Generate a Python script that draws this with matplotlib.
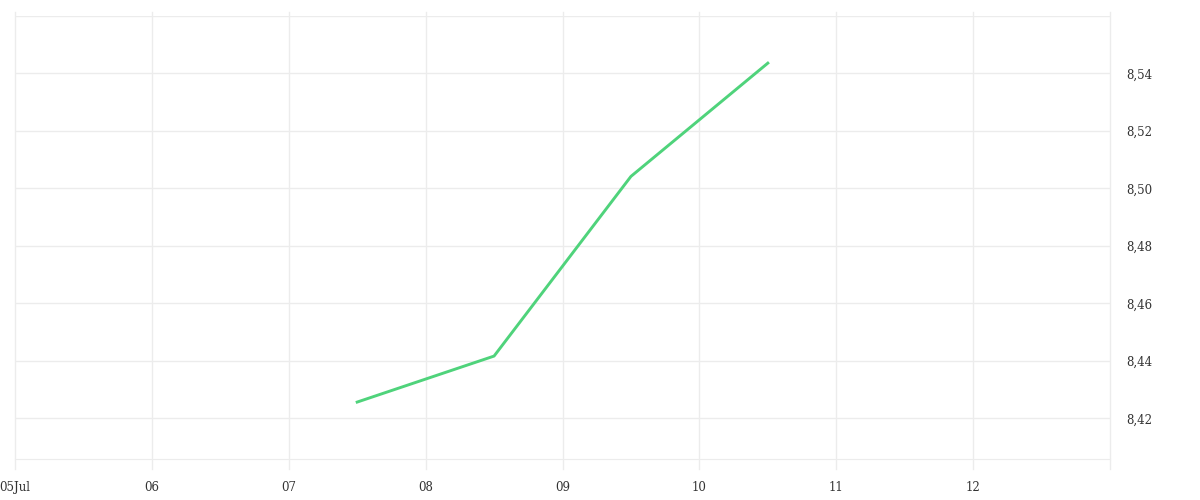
import matplotlib
matplotlib.use("Agg")
import matplotlib.pyplot as plt
import matplotlib.dates as mdates
import matplotlib.transforms as mtrans
import datetime as dt

dates = ["2024-07-07 12:00", "2024-07-08 12:00", "2024-07-09 12:00", "2024-07-10 12:00"]
values = [8.4257, 8.4417, 8.5042, 8.5436]
x_ticks = ["2024-07-05", "2024-07-06", "2024-07-07", "2024-07-08", "2024-07-09",
           "2024-07-10", "2024-07-11", "2024-07-12"]
x_tick_labels = ["05Jul", "06", "07", "08", "09", "10", "11", "12"]
y_ticks = [8.42, 8.44, 8.46, 8.48, 8.50, 8.52, 8.54]
y_grid_extra = [8.56]

plt.rcParams['font.family'] = ['DejaVu Serif']

fig = plt.figure(figsize=(12, 5), dpi=100)
ax_h = (458.7 - 16) / 500
ax = fig.add_axes([15/1200, 1 - 458.7/500, (1110 - 15)/1200, ax_h])

xd = [dt.datetime.strptime(d, "%Y-%m-%d %H:%M") for d in dates]
ax.plot(xd, values, color="#4fd37b", lw=2.1, zorder=3)

xt = [dt.datetime.strptime(d, "%Y-%m-%d") for d in x_ticks]
xend = dt.datetime(2024, 7, 13)
ax.set_xlim(dt.datetime(2024, 7, 5), xend)
ax.set_ylim(8.406, 8.56)

ax.set_xticks(xt)
ax.set_xticklabels(x_tick_labels)
ax.yaxis.tick_right()
ax.set_yticks(y_ticks)
ax.set_yticklabels([f"{v:.2f}".replace(".", ",") for v in y_ticks])

gc = "#ececec"
ax.grid(True, axis="y", color=gc, lw=1)
for v in y_grid_extra:
    ax.axhline(v, color=gc, lw=1, zorder=0)
ax.set_axisbelow(True)

# vertical grid lines extending slightly beyond the plot area
trans = mtrans.blended_transform_factory(ax.transData, ax.transAxes)
px = 1 / (ax_h * 500)
for x in xt + [xend]:
    ax.plot([x, x], [-10 * px, 1 + 4 * px], color=gc, lw=1, transform=trans,
            clip_on=False, zorder=0)

for s in ax.spines.values():
    s.set_visible(False)
ax.spines['bottom'].set_visible(True)
ax.spines['bottom'].set_color(gc)

ax.tick_params(axis="x", length=0, pad=16, labelsize=8.5, labelcolor="#333333")
ax.tick_params(axis="y", length=0, pad=12, labelsize=8.5, labelcolor="#333333")

fig.savefig("out.png", dpi=100, facecolor="white")
